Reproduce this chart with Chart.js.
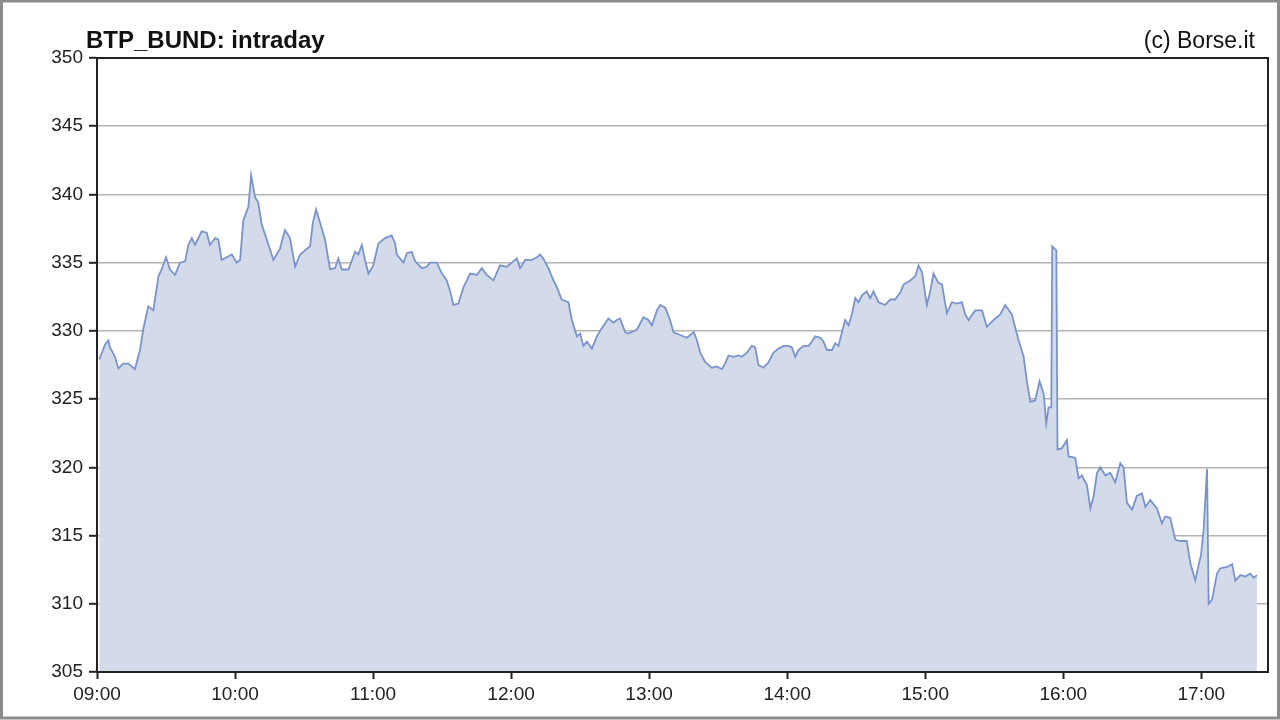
<!DOCTYPE html>
<html>
<head>
<meta charset="utf-8">
<script src="https://cdn.jsdelivr.net/npm/chart.js@4/dist/chart.umd.min.js"></script>
<style>
  html, body { margin: 0; padding: 0; background: #fff; }
  #wrap { width: 1280px; height: 720px; position: relative; }
</style>
</head>
<body>
<div id="wrap"><canvas id="chart" width="1280" height="720"></canvas></div>
<script>
// minutes after 09:00 and BTP-Bund spread
var minutes = [1, 3.5, 4.9, 5.6, 7.8, 9.3, 11.4, 13.6, 16.5, 18.7, 20.1, 22.3, 24.5, 26.7, 28.1, 30, 31.7, 33.9, 36.1, 38.3,
  39.7, 41.2, 42.6, 45.5, 47.7, 49.1, 51.3, 52.7, 54.2, 56.4, 58.6, 60.7, 62.2, 63.6, 65.8, 67, 68.7, 70.1, 71.6, 73.8,
  76.7, 79.6, 81.7, 83.9, 86.1, 88.3, 90.4, 92.6, 93.8, 95.2, 97, 99.1, 101.3, 103.5, 104.9, 106.4, 109.3, 112.2, 113.6, 115.1,
  116.5, 118, 120.1, 122.3, 125.2, 128.1, 129.6, 130.3, 133.2, 134.7, 136.8, 138.3, 141.2, 143.3, 144.8, 147.7, 149.9, 152, 153.5, 154.9,
  157.1, 159.3, 162.2, 165.1, 167.3, 169.4, 172.3, 175.2, 178.1, 180.3, 182.5, 183.9, 186.1, 189, 191.2, 192.6, 194, 196.2, 198.4, 199.9,
  202, 204.9, 206.4, 208.6, 210, 211.4, 212.9, 215.1, 217.3, 219.4, 222.3, 224.5, 225.9, 227.4, 229.6, 231, 234.7, 237.5, 239.7, 241.2,
  243.4, 244.8, 247, 249.1, 250.6, 253.5, 256.4, 259.4, 260.8, 262.2, 264.4, 267.3, 269.4, 271.6, 273, 274.5, 276.7, 278.8, 280.3, 282.5,
  284.6, 286.1, 287.5, 289.7, 291.9, 294, 296.2, 298.4, 300.6, 302, 303.5, 304.9, 307.1, 309.3, 310.7, 312.2, 314.4, 315.8, 317.3, 319.5,
  320.9, 322.3, 323.8, 325.2, 326.7, 328.1, 329.6, 331, 332.5, 334.6, 336.1, 337.5, 339.7, 342.6, 344.8, 346.9, 349.1, 350.6, 353.5, 355.7,
  357.1, 358.6, 360.7, 362.2, 363.6, 365.8, 367.3, 369.4, 371.6, 373.8, 375.9, 377.4, 378.8, 381.7, 384.7, 386.8, 389.7, 392.6, 394.8, 397.7,
  399.2, 400.6, 402.8, 404.2, 405.7, 407.8, 409.7, 411.5, 412.6, 413.6, 414.8, 415.2, 417, 417.5, 419.4, 421.6, 422.3, 425.2, 426.7, 428.1,
  430.3, 431.8, 433.2, 434.7, 436.1, 438.3, 440.4, 442.6, 444.8, 446.2, 447.7, 449.9, 452, 454.2, 455.7, 457.8, 460.7, 462.9, 464.3, 466.5,
  468.7, 470.8, 473.7, 475.2, 477.4, 478.4, 479.9, 481, 482.5, 483.2, 484.7, 486.8, 488.3, 491.2, 493.4, 494.8, 497, 499.1, 501.3, 502.8,
  504.2];
var spread = [327.9, 329.0, 329.3, 328.8, 328.1, 327.25, 327.6, 327.6, 327.2, 328.6, 330.1, 331.8, 331.5, 334.0, 334.5, 335.4, 334.5, 334.1, 335.0, 335.1,
  336.3, 336.8, 336.3, 337.3, 337.2, 336.3, 336.8, 336.7, 335.2, 335.4, 335.6, 335.0, 335.2, 338.1, 339.1, 341.4, 339.8, 339.4, 337.8, 336.7,
  335.2, 336.05, 337.4, 336.8, 334.7, 335.6, 335.9, 336.2, 337.9, 338.9, 337.9, 336.7, 334.5, 334.6, 335.3, 334.5, 334.5, 335.8, 335.6, 336.3,
  335.2, 334.2, 334.8, 336.4, 336.8, 337.0, 336.4, 335.6, 335.0, 335.7, 335.8, 335.1, 334.6, 334.7, 335.0, 335.0, 334.2, 333.7, 332.9, 331.9,
  332.0, 333.2, 334.2, 334.1, 334.6, 334.1, 333.7, 334.8, 334.7, 335.0, 335.3, 334.6, 335.2, 335.2, 335.4, 335.6, 335.3, 334.6, 333.7, 333.2,
  332.3, 332.1, 330.8, 329.6, 329.8, 328.9, 329.2, 328.7, 329.6, 330.2, 330.9, 330.6, 330.8, 330.9, 329.9, 329.8, 330.1, 331.0, 330.8, 330.4,
  331.5, 331.9, 331.7, 330.8, 329.9, 329.7, 329.5, 329.9, 329.3, 328.4, 327.7, 327.3, 327.4, 327.2, 327.6, 328.2, 328.1, 328.2, 328.1, 328.4,
  328.9, 328.8, 327.5, 327.3, 327.7, 328.4, 328.7, 328.9, 328.9, 328.8, 328.1, 328.6, 328.9, 328.9, 329.2, 329.6, 329.5, 329.2, 328.6, 328.6,
  329.1, 328.9, 329.9, 330.8, 330.4, 331.2, 332.4, 332.1, 332.6, 332.9, 332.4, 332.9, 332.1, 331.9, 332.3, 332.3, 332.8, 333.4, 333.7, 334.0,
  334.8, 334.3, 331.9, 332.9, 334.2, 333.5, 333.4, 331.3, 332.1, 332.0, 332.1, 331.2, 330.8, 331.5, 331.5, 330.3, 330.8, 331.2, 331.9, 331.2,
  330.2, 329.3, 328.1, 326.3, 324.8, 324.9, 326.3, 325.4, 323.2, 324.4, 324.4, 336.2, 335.9, 321.3, 321.4, 322.0, 320.8, 320.7, 319.2, 319.4,
  318.7, 317.0, 317.9, 319.6, 320.0, 319.4, 319.6, 318.9, 320.3, 320.0, 317.4, 316.9, 317.9, 318.1, 317.1, 317.6, 317.0, 315.9, 316.4, 316.3,
  314.7, 314.6, 314.6, 313.0, 311.7, 312.5, 313.6, 315.4, 319.9, 310.0, 310.3, 312.2, 312.6, 312.7, 312.9, 311.7, 312.1, 312.0, 312.2, 311.9,
  312.1];

var tickMinutes = [0, 60, 120, 180, 240, 300, 360, 420, 480];
var tickLabels = ["09:00", "10:00", "11:00", "12:00", "13:00", "14:00", "15:00", "16:00", "17:00"];

var points = minutes.map(function (m, i) { return { x: m, y: spread[i] }; });

// frame, title and copyright text
var decor = {
  id: 'decor',
  beforeDraw: function (chart) {
    var c = chart.ctx;
    c.save();
    c.fillStyle = '#fff';
    c.fillRect(0, 0, chart.width, chart.height);
    c.strokeStyle = '#8c8c8c';
    c.lineWidth = 3;
    c.strokeRect(1.5, 1, chart.width - 3, chart.height - 3);
    c.restore();
  },
  afterDraw: function (chart) {
    var c = chart.ctx, a = chart.chartArea;
    c.save();
    c.strokeStyle = '#222';
    c.lineWidth = 2;
    c.strokeRect(a.left, a.top, a.right - a.left, a.bottom - a.top);
    c.fillStyle = '#111';
    c.textBaseline = 'alphabetic';
    c.font = 'bold 24px "Liberation Sans", Arial, sans-serif';
    c.textAlign = 'left';
    c.fillText('BTP_BUND: intraday', 86, 48);
    c.font = '23px "Liberation Sans", Arial, sans-serif';
    c.textAlign = 'right';
    c.fillText('(c) Borse.it', 1255, 48);
    c.restore();
  }
};

new Chart(document.getElementById('chart').getContext('2d'), {
  type: 'line',
  data: {
    datasets: [{
      data: points,
      borderColor: '#7a94cb',
      backgroundColor: '#d3dbea',
      borderWidth: 1.8,
      pointRadius: 0,
      tension: 0,
      fill: 'start'
    }]
  },
  options: {
    responsive: false,
    animation: false,
    layout: { padding: { top: 58, right: 12, left: 0, bottom: 0 } },
    plugins: { legend: { display: false }, tooltip: { enabled: false } },
    scales: {
      x: {
        type: 'linear',
        min: 0,
        max: 509,
        afterBuildTicks: function (s) { s.ticks = tickMinutes.map(function (v) { return { value: v }; }); },
        afterFit: function (s) { s.height = 48; },
        ticks: {
          autoSkip: false,
          maxRotation: 0,
          color: '#222',
          padding: 4,
          font: { family: '"Liberation Sans", Arial, sans-serif', size: 19 },
          callback: function (v) { var i = tickMinutes.indexOf(v); return i < 0 ? '' : tickLabels[i]; }
        },
        grid: { drawOnChartArea: false, tickLength: 7, tickColor: '#222', tickWidth: 2 },
        border: { color: '#222', width: 2 }
      },
      y: {
        min: 305,
        max: 350,
        afterFit: function (s) { s.width = 97; },
        ticks: {
          stepSize: 5,
          color: '#222',
          padding: 6,
          font: { family: '"Liberation Sans", Arial, sans-serif', size: 19 }
        },
        grid: { color: '#b4b4b4', lineWidth: 1.6, tickLength: 8, tickColor: '#222', tickWidth: 2 },
        border: { color: '#222', width: 2 }
      }
    }
  },
  plugins: [decor]
});
</script>
</body>
</html>
